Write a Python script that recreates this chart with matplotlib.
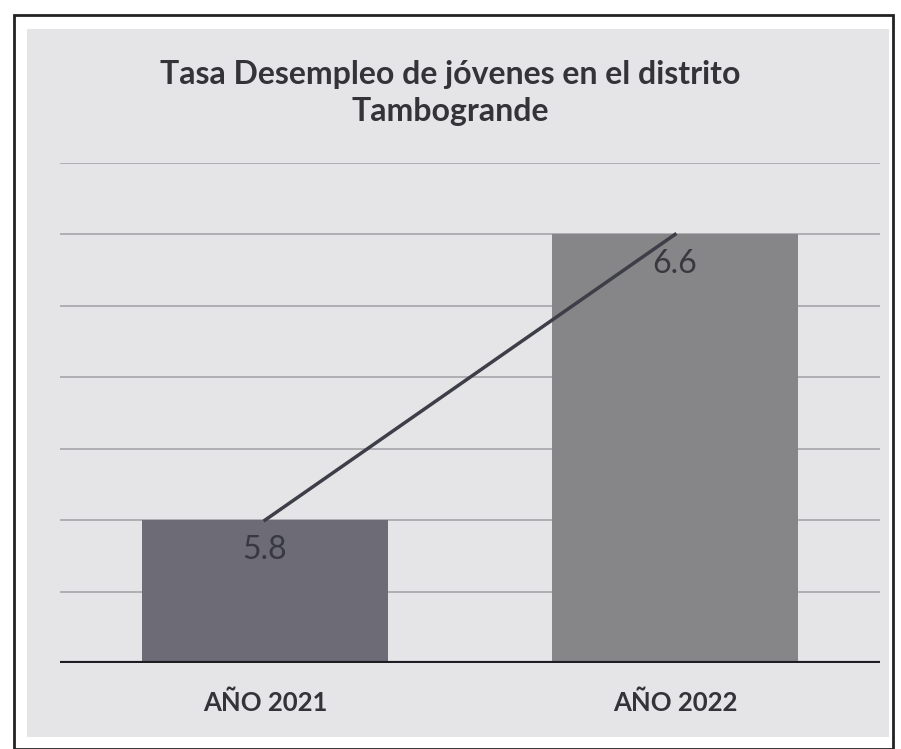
import matplotlib
matplotlib.use("Agg")
import matplotlib.pyplot as plt
from matplotlib.patches import Rectangle

categories = ["AÑO 2021", "AÑO 2022"]
values = [5.8, 6.6]
bar_colors = ["#6d6c76", "#868688"]
title = "Tasa Desempleo de jóvenes en el distrito\nTambogrande"
y_min, y_max, y_step = 5.4, 6.8, 0.2

W, H = 901, 749
fig = plt.figure(figsize=(W / 100, H / 100), dpi=100)
fig.patch.set_facecolor("white")

def fx(px):
    return px / W

def fy(py):
    return 1 - py / H

# outer frame and gray panel
fig.patches.append(Rectangle((fx(14), fy(749)), fx(893) - fx(14), fy(15) - fy(749),
                             transform=fig.transFigure, facecolor="white",
                             edgecolor="#222222", linewidth=2, zorder=-2))
fig.patches.append(Rectangle((fx(27), fy(737)), fx(889) - fx(27), fy(29) - fy(737),
                             transform=fig.transFigure, facecolor="#e5e5e8",
                             edgecolor="none", zorder=-1))

ax = fig.add_axes([fx(60), fy(663), fx(880) - fx(60), fy(163) - fy(663)])
ax.set_zorder(1)
ax.set_facecolor("none")
x = list(range(len(categories)))
ax.bar(x, [v - y_min for v in values], bottom=y_min, width=0.6, color=bar_colors, zorder=3)
ax.plot(x, values, color="#3e3e48", linewidth=2.5, zorder=4)
for xi, v in zip(x, values):
    ax.annotate(f"{v}", (xi, v), xytext=(0, -30), textcoords="offset pixels",
                ha="center", va="center", fontsize=23, fontfamily="Lato",
                color="#38383f", zorder=5)

ax.set_xlim(-0.5, 1.5)
ax.set_ylim(y_min, y_max)
ticks = []
t = y_min + y_step
while t <= y_max + 1e-9:
    ticks.append(round(t, 2))
    t += y_step
for t in ticks:
    ax.axhline(t, color="#a6a6aa", linewidth=1.2, zorder=1)
ax.axhline(y_min, color="#1e1e22", linewidth=3, zorder=4)
ax.set_yticks([])
ax.set_xticks(x)
ax.set_xticklabels(categories, fontsize=18.5, fontweight="bold", fontfamily="Lato", color="#333338")
ax.tick_params(axis="x", length=0, pad=20)
for s in ax.spines.values():
    s.set_visible(False)

fig.text(0.5, fy(93), title, ha="center", va="center", fontsize=23, fontweight="bold",
         fontfamily="Lato", color="#333338", linespacing=1.35)

fig.savefig("out.png", dpi=100)
